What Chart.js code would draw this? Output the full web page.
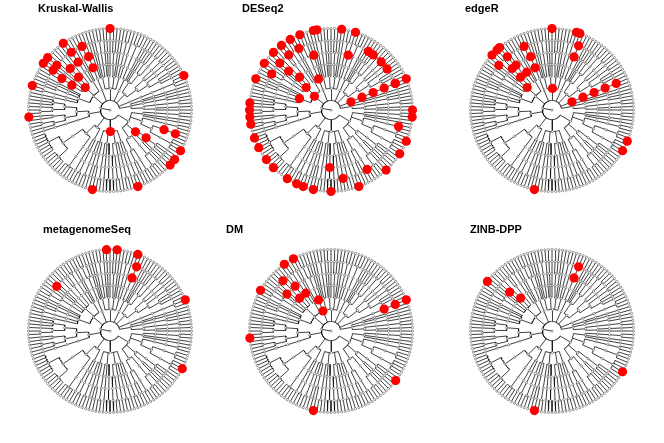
<!DOCTYPE html>
<html>
<head>
<meta charset="utf-8">
<script src="https://cdn.jsdelivr.net/npm/chart.js@4/dist/chart.umd.min.js"></script>
<style>
body { margin: 0; background: #fff; width: 664px; height: 443px; position: relative; overflow: hidden; }
canvas { position: absolute; }
.titulo { position: absolute; font: bold 11px "Liberation Sans", Arial, sans-serif; color: #000; white-space: nowrap; line-height: 13px; }
</style>
</head>
<body>
<script>
var metodos = ["Kruskal-Wallis", "DESeq2", "edgeR", "metagenomeSeq", "DM", "ZINB-DPP"];

// taxonomia, sentido anti-horario a partir das 3 horas
// filo -> classe -> ordem -> familia -> genero (numero = especies no genero)
var filos = [
    [ [ [[1],[1]], [[2]] ], [ [[1,1]] ], [ [[1]], [[1]] ] ],
    [ [ [[3]] ] ],
    [ [ [[1,1,1],[2]], [[1],[2]] ], [ [[2],[1,1]], [[1]], [[1]] ] ],
    [ [ [[1]], [[3]] ] ],
    [ [ [[1]], [[2]] ], [ [[1]], [[1]], [[1,1]] ], [ [[1]], [[1]], [[1]] ], [ [[2]], [[1]], [[1]], [[1]] ] ],
    [ [ [[1,2]] ] ],
    [ [ [[1]], [[1]], [[2]] ], [ [[1,1]], [[2]], [[1],[1]], [[1]], [[1,2]] ], [ [[1]], [[1]], [[1,1]], [[2]], [[1]] ] ],
    [ [ [[1,1,1],[1,2]], [[1,1],[2,1]] ], [ [[1]] ] ],
    [ [ [[7,5]], [[4]] ], [ [[1]], [[2]] ] ],
    [ [ [[2]], [[1]], [[1,1]] ], [ [[2]], [[1]], [[2]] ], [ [[1],[2]], [[1]], [[2]] ], [ [[1]], [[2]] ] ],
    [ [ [[1,1],[2]], [[3,1]] ], [ [[1],[1]], [[1,1,1]] ], [ [[4],[3]], [[2]] ], [ [[1]], [[1]], [[2]] ] ]
];

// nos significativos: [indice da folha, nivel do ancestral] (1 reino ... 7 especie)
var sigKW = [[36,7],[50,7],[46,6],[50,6],[45,5],[56,7],[58,7],[49,5],[56,6],[45,4],[58,6],[54,5],[58,5],[54,4],[58,4],[58,3],
             [65,7],[74,7],[106,2],[126,3],[128,4],[136,5],[136,6],[132,7],[127,7],[129,7],[103,7],[116,7],[10,7]];
var sigDESeq2 = [[48,7],[45,7],[41,7],[40,7],[33,7],[29,7],[54,7],[51,7],[58,7],[55,6],[51,6],[47,6],[43,5],[63,7],[59,6],
                 [55,5],[54,4],[45,3],[63,3],[57,3],[48,2],[29,5],[23,6],[21,6],[18,6],[15,6],[10,6],
                 [9,2],[9,3],[9,4],[9,5],[9,6],[9,7],[0,7],[142,7],[70,7],[72,7],[74,7],[76,7],
                 [80,7],[83,7],[87,7],[90,7],[95,7],[98,7],[100,7],[103,7],[108,7],[112,6],[116,7],
                 [121,6],[125,7],[131,7],[135,7],[139,6],[108,5]];
var sigEdgeR = [[36,7],[29,7],[28,7],[27,6],[27,5],[52,7],[53,7],[46,6],[55,7],[52,6],[44,5],[56,6],[51,5],[44,4],
                [54,5],[50,4],[54,4],[52,3],[42,2],[9,2],[9,3],[9,4],[9,5],[9,6],[135,7],[132,7],[103,7]];
var sigMetagenomeSeq = [[37,7],[34,7],[28,7],[27,6],[27,5],[56,6],[9,7],[133,7]];
var sigDM = [[50,7],[47,7],[54,6],[52,5],[50,4],[60,7],[56,5],[53,4],[46,3],[45,2],[74,7],
             [9,5],[9,6],[9,7],[129,7],[103,7]];
var sigZINB = [[57,7],[55,5],[54,4],[28,6],[27,5],[132,7],[103,7]];

var significativos = [sigKW, sigDESeq2, sigEdgeR, sigMetagenomeSeq, sigDM, sigZINB];
var posTitulo = [[38, 2], [242, 2], [465, 2], [43, 223], [226, 223], [470, 223]];

// montagem da arvore
function cresce(item, nivel) {
    var no = { nivel: nivel, filhos: [] };
    if (nivel === 6) {
        for (var s = 0; s < item; s++) no.filhos.push({ nivel: 7, filhos: [] });
    } else {
        item.forEach(function (sub) { no.filhos.push(cresce(sub, nivel + 1)); });
    }
    return no;
}
var reino = { nivel: 1, filhos: filos.map(function (f) { return cresce(f, 2); }) };
var raiz = { nivel: 0, filhos: [reino] };

var folhas = [];
function posiciona(no, caminho) {
    caminho = caminho.concat([no]);
    if (!no.filhos.length) {
        no.a = folhas.length;
        no.caminho = caminho;
        folhas.push(no);
        return;
    }
    no.filhos.forEach(function (f) { posiciona(f, caminho); });
    no.a = (no.filhos[0].a + no.filhos[no.filhos.length - 1].a) / 2;
}
posiciona(raiz, []);

var nFolhas = folhas.length;
function ang(no) { return no.a * 2 * Math.PI / nFolhas; }
function raio(nivel) { return nivel === 0 ? 0 : 10 + (nivel - 1) * 12.5; }
function ponto(r, t) { return { x: r * Math.cos(t), y: r * Math.sin(t) }; }

var arestas = [];
var nos = [];
function percorre(no, pai) {
    var t = ang(no), r = raio(no.nivel);
    nos.push(ponto(r, t));
    if (pai) {
        arestas.push(ponto(raio(pai.nivel), t), ponto(r, t), { x: NaN, y: NaN });
    }
    if (no.filhos.length > 1) {
        var t0 = ang(no.filhos[0]), t1 = ang(no.filhos[no.filhos.length - 1]);
        var passos = Math.max(2, Math.ceil((t1 - t0) / 0.017));
        for (var i = 0; i <= passos; i++) arestas.push(ponto(r, t0 + (t1 - t0) * i / passos));
        arestas.push({ x: NaN, y: NaN });
    }
    no.filhos.forEach(function (f) { percorre(f, no); });
}
percorre(raiz, null);

metodos.forEach(function (nome, i) {
    var col = i % 3, lin = Math.floor(i / 3);

    var canvas = document.createElement("canvas");
    canvas.width = 221;
    canvas.height = 221;
    canvas.style.left = (col * 221) + "px";
    canvas.style.top = (lin * 221) + "px";
    document.body.appendChild(canvas);

    var tit = document.createElement("div");
    tit.className = "titulo";
    tit.textContent = nome;
    tit.style.left = posTitulo[i][0] + "px";
    tit.style.top = posTitulo[i][1] + "px";
    document.body.appendChild(tit);

    var vermelhos = significativos[i].map(function (s) {
        var no = folhas[s[0]].caminho[s[1]];
        return ponto(raio(no.nivel), ang(no));
    });

    new Chart(canvas, {
        type: "scatter",
        data: {
            datasets: [{
                data: vermelhos,
                pointRadius: 4.6,
                pointBackgroundColor: "#ff0000",
                pointBorderWidth: 0,
                order: 0
            }, {
                data: nos,
                pointRadius: 1.1,
                pointBackgroundColor: "#ffffff",
                pointBorderColor: "#555555",
                pointBorderWidth: 0.6,
                order: 1
            }, {
                data: arestas,
                showLine: true,
                spanGaps: false,
                borderColor: "#111111",
                borderWidth: 0.8,
                pointRadius: 0,
                order: 2
            }]
        },
        options: {
            responsive: false,
            animation: false,
            events: [],
            layout: { padding: 0 },
            scales: {
                x: { type: "linear", min: -110, max: 111, display: false },
                y: { type: "linear", min: -111, max: 110, display: false }
            },
            plugins: {
                legend: { display: false },
                tooltip: { enabled: false }
            }
        }
    });
});
</script>
</body>
</html>
